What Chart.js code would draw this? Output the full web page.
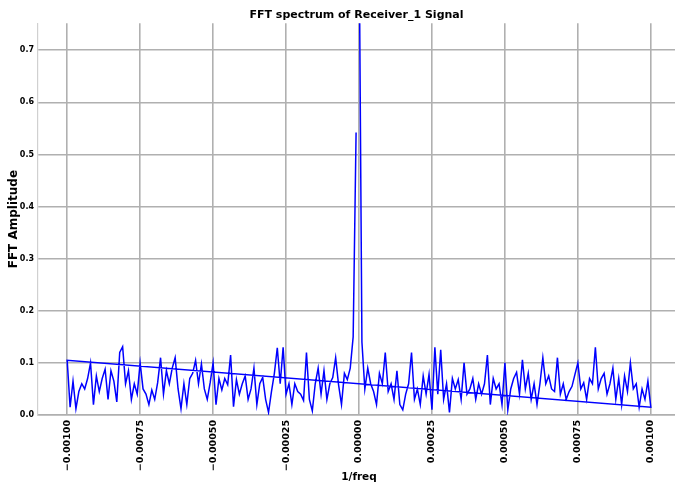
<!DOCTYPE html>
<html>
<head>
<meta charset="utf-8">
<title>FFT spectrum of Receiver_1 Signal</title>
<script src="https://cdn.jsdelivr.net/npm/chart.js@4/dist/chart.umd.min.js"></script>
<style>
  html, body { margin: 0; padding: 0; background: #fff; overflow: hidden; }
  canvas { display: block; }
</style>
</head>
<body>
<!-- the figure is wider than the window: its right edge is cut off, like the reference -->
<canvas id="fftChart" width="713" height="486"></canvas>
<script>
// FFT bins are 1e-5 apart
const binStep = 0.00001;

// positive bins: 0 .. 0.001
const posAmp = [
  0.95, 0.140, 0.050, 0.090, 0.060, 0.045, 0.020, 0.080, 0.060, 0.120,
  0.045, 0.060, 0.030, 0.085, 0.020, 0.010, 0.040, 0.060, 0.120, 0.030,
  0.050, 0.020, 0.075, 0.040, 0.078, 0.010, 0.130, 0.040, 0.125, 0.030,
  0.060, 0.005, 0.070, 0.050, 0.068, 0.030, 0.100, 0.040, 0.050, 0.070,
  0.030, 0.060, 0.040, 0.060, 0.115, 0.020, 0.070, 0.050, 0.060, 0.020,
  0.100, 0.010, 0.050, 0.070, 0.082, 0.040, 0.106, 0.050, 0.080, 0.030,
  0.060, 0.020, 0.060, 0.110, 0.060, 0.075, 0.050, 0.045, 0.110, 0.040,
  0.060, 0.030, 0.045, 0.055, 0.078, 0.100, 0.050, 0.062, 0.030, 0.070,
  0.060, 0.130, 0.050, 0.070, 0.080, 0.040, 0.060, 0.090, 0.030, 0.070,
  0.020, 0.075, 0.045, 0.100, 0.050, 0.060, 0.015, 0.050, 0.030, 0.065,
  0.015
];

// negative bins: -0.001 .. -0.00001
const negAmp = [
  0.105, 0.015, 0.065, 0.012, 0.045, 0.060, 0.050, 0.070, 0.100, 0.020,
  0.075, 0.045, 0.070, 0.088, 0.030, 0.085, 0.065, 0.025, 0.120, 0.131,
  0.060, 0.085, 0.030, 0.060, 0.040, 0.100, 0.050, 0.040, 0.020, 0.048,
  0.030, 0.062, 0.110, 0.040, 0.085, 0.060, 0.090, 0.110, 0.050, 0.012,
  0.060, 0.020, 0.070, 0.080, 0.105, 0.060, 0.098, 0.050, 0.030, 0.062,
  0.100, 0.020, 0.070, 0.048, 0.070, 0.058, 0.115, 0.016, 0.068, 0.040,
  0.060, 0.075, 0.030, 0.050, 0.090, 0.020, 0.060, 0.072, 0.030, 0.005,
  0.045, 0.080, 0.129, 0.060, 0.130, 0.040, 0.060, 0.020, 0.060, 0.045,
  0.040, 0.028, 0.120, 0.030, 0.008, 0.060, 0.090, 0.040, 0.085, 0.030,
  0.060, 0.072, 0.110, 0.058, 0.020, 0.080, 0.068, 0.090, 0.150, 0.542
];

const xTicks = [-0.001, -0.00075, -0.0005, -0.00025, 0, 0.00025, 0.0005, 0.00075, 0.001];
const yTicks = [0, 0.1, 0.2, 0.3, 0.4, 0.5, 0.6, 0.7];

// plotted in raw FFT order (positive half first, then negative half)
const points = posAmp.map((v, j) => ({ x: j * binStep, y: v }))
  .concat(negAmp.map((v, i) => ({ x: -0.001 + i * binStep, y: v })));

const gridColor = '#b0b0b0';

// title spans the whole figure width, not just the padded box
const wideTitle = {
  id: 'wideTitle',
  afterLayout(chart) {
    if (chart.titleBlock) chart.titleBlock.right = chart.width;
  }
};

new Chart(document.getElementById('fftChart'), {
  type: 'scatter',
  data: {
    datasets: [{
      data: points,
      showLine: true,
      borderColor: '#0000ff',
      borderWidth: 1.5,
      pointRadius: 0,
      pointHoverRadius: 0,
      tension: 0
    }]
  },
  options: {
    responsive: false,
    animation: false,
    layout: { padding: { left: 0, top: 0, bottom: 0, right: 33 } },
    plugins: {
      legend: { display: false },
      tooltip: { enabled: false },
      title: {
        display: true,
        text: 'FFT spectrum of Receiver_1 Signal',
        color: '#000',
        font: { family: 'DejaVu Sans', size: 11, weight: 'bold', lineHeight: 1.2 },
        padding: { top: 9, bottom: 1 }
      }
    },
    scales: {
      x: {
        type: 'linear',
        min: -0.0011,
        max: 0.0011,
        afterBuildTicks: s => { s.ticks = xTicks.map(v => ({ value: v })); },
        afterFit: s => { s.height = 71; },
        ticks: {
          color: '#000',
          font: { family: 'DejaVu Sans', size: 9.5, weight: 'bold' },
          minRotation: 90,
          maxRotation: 90,
          padding: 5,
          callback: v => v.toFixed(5).replace('-', '\u2212')
        },
        grid: { color: gridColor, lineWidth: 1.6, drawTicks: false },
        border: { color: gridColor, width: 1.6 },
        title: {
          display: true,
          text: '1/freq',
          color: '#000',
          font: { family: 'DejaVu Sans', size: 10.5, weight: 'bold' },
          padding: { top: 0, bottom: 2 }
        }
      },
      y: {
        min: 0,
        max: 0.752,
        afterBuildTicks: s => { s.ticks = yTicks.map(v => ({ value: v })); },
        afterFit: s => { s.width = 38; },
        ticks: {
          color: '#000',
          font: { family: 'DejaVu Sans', size: 8, weight: 'bold' },
          padding: 4,
          callback: v => v.toFixed(1)
        },
        grid: { color: gridColor, lineWidth: 1.6, drawTicks: false },
        border: { color: '#d0d0d0', width: 1.2 },
        title: {
          display: true,
          text: 'FFT Amplitude',
          color: '#000',
          font: { family: 'DejaVu Sans', size: 12, weight: 'bold' },
          padding: { top: 7, bottom: 0 }
        }
      }
    }
  },
  plugins: [wideTitle]
});
</script>
</body>
</html>
